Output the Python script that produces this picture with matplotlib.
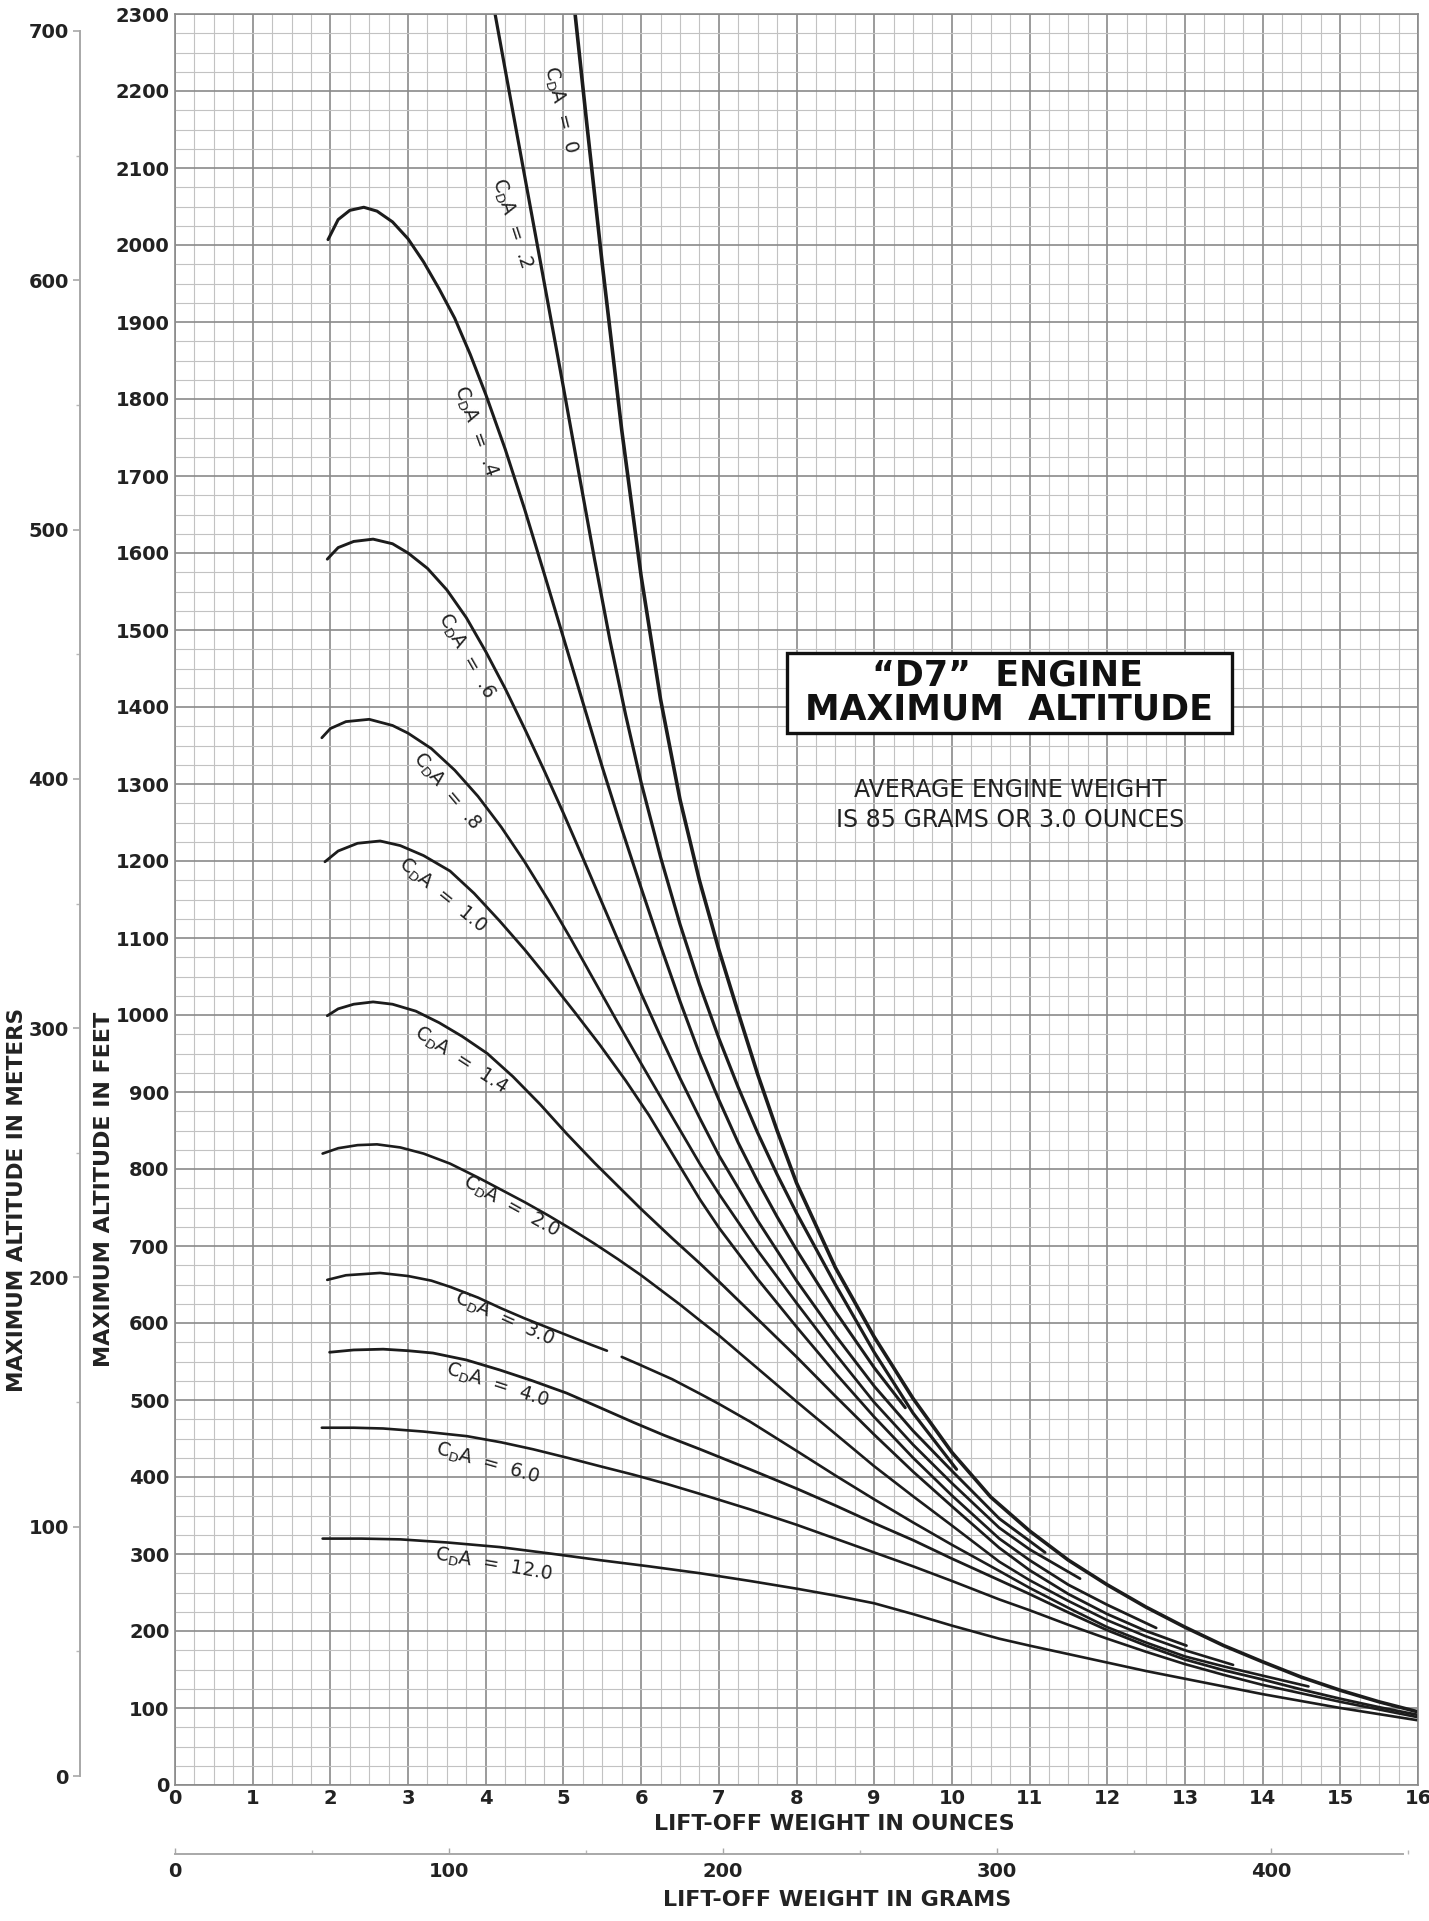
import numpy as np
import matplotlib
matplotlib.use("Agg")
import matplotlib.pyplot as plt
from matplotlib.patches import Rectangle

# lift-off weight (oz) vs maximum altitude (ft), one curve per CdA value
cda_0_x = [5.15, 5.3, 5.5, 5.75, 6.0, 6.25, 6.5, 6.75, 7.0, 7.25, 7.5, 7.75, 8.0, 8.5, 9.0, 9.5,
           10.0, 10.5, 11.0, 11.5, 12.0, 12.5, 13.0, 13.5, 14.0, 14.5, 15.0, 15.5, 16.0]
cda_0_y = [2300, 2158, 1975, 1760, 1570, 1410, 1280, 1175, 1085, 1003, 923, 850, 782, 672, 582, 502,
           432, 374, 330, 292, 260, 231, 205, 181, 160, 140, 123, 108, 95]

cda_02_x = [4.12, 4.25, 4.4, 4.6, 4.8, 5.0, 5.2, 5.4, 5.6, 5.8, 6.0, 6.25, 6.5, 6.75, 7.0, 7.25,
            7.5, 7.75, 8.0, 8.5, 9.0, 9.5, 10.06]
cda_02_y = [2300, 2228, 2145, 2035, 1925, 1815, 1703, 1592, 1486, 1390, 1302, 1205, 1118, 1040, 970, 906,
            847, 793, 743, 650, 562, 483, 410]

cda_04_x = [1.97, 2.1, 2.25, 2.43, 2.6, 2.8, 3.0, 3.2, 3.4, 3.6, 3.8, 4.0, 4.25, 4.5, 4.75, 5.0,
            5.25, 5.5, 5.75, 6.0, 6.25, 6.5, 6.75, 7.0, 7.25, 7.5, 7.75, 8.0, 8.5, 9.0, 9.4]
cda_04_y = [2007, 2033, 2045, 2049, 2044, 2030, 2008, 1978, 1943, 1905, 1858, 1806, 1735, 1657, 1574, 1490,
            1406, 1322, 1242, 1165, 1090, 1018, 950, 890, 834, 784, 738, 695, 615, 542, 490]

cda_06_x = [1.96, 2.1, 2.3, 2.55, 2.8, 3.0, 3.25, 3.5, 3.75, 4.0, 4.25, 4.5, 4.75, 5.0, 5.25, 5.5,
            5.75, 6.0, 6.25, 6.5, 6.76, 7.0, 7.5, 8.0, 8.5, 9.0, 9.5, 10.0, 10.61, 11.2]
cda_06_y = [1592, 1607, 1615, 1618, 1612, 1600, 1580, 1552, 1516, 1472, 1424, 1372, 1318, 1262, 1204, 1145,
            1086, 1028, 972, 918, 865, 818, 733, 655, 584, 518, 460, 408, 346, 302]

cda_08_x = [1.89, 2.0, 2.2, 2.5, 2.8, 3.0, 3.3, 3.6, 3.9, 4.2, 4.5, 4.8, 5.1, 5.4, 5.7, 6.0,
            6.3, 6.76, 7.0, 7.5, 8.0, 8.5, 9.0, 9.5, 10.0, 10.61, 11.0, 11.65]
cda_08_y = [1360, 1372, 1381, 1384, 1376, 1366, 1346, 1318, 1284, 1244, 1199, 1150, 1098, 1044, 990, 937,
            885, 806, 768, 694, 626, 560, 497, 442, 392, 334, 306, 268]

cda_10_x = [1.93, 2.1, 2.35, 2.64, 2.9, 3.2, 3.54, 3.85, 4.18, 4.5, 4.83, 5.15, 5.47, 5.8, 6.1, 6.4,
            6.76, 7.0, 7.5, 8.0, 8.5, 9.0, 9.5, 10.0, 10.61, 11.0, 11.5, 12.0, 12.63]
cda_10_y = [1199, 1213, 1223, 1226, 1220, 1207, 1187, 1158, 1122, 1085, 1044, 1003, 961, 915, 870, 820,
            760, 724, 657, 595, 535, 478, 425, 376, 320, 292, 260, 234, 204]

cda_14_x = [1.96, 2.1, 2.3, 2.55, 2.8, 3.1, 3.4, 3.7, 4.02, 4.35, 4.7, 5.04, 5.4, 5.7, 6.0, 6.4,
            6.76, 7.0, 7.5, 8.0, 8.5, 9.0, 9.5, 10.0, 10.61, 11.0, 11.5, 12.0, 12.5, 13.02]
cda_14_y = [999, 1008, 1014, 1017, 1014, 1005, 990, 972, 950, 920, 884, 846, 808, 778, 748, 710,
            677, 654, 605, 556, 505, 455, 407, 362, 308, 279, 248, 222, 200, 181]

cda_20_x = [1.9, 2.1, 2.35, 2.6, 2.9, 3.2, 3.54, 3.9, 4.2, 4.5, 4.8, 5.1, 5.4, 5.7, 6.0, 6.25,
            6.5, 6.76, 7.0, 7.5, 8.0, 8.5, 9.0, 9.5, 10.0, 10.61, 11.0, 11.5, 12.0, 12.5, 13.0, 13.62]
cda_20_y = [820, 827, 831, 832, 828, 820, 807, 789, 773, 757, 740, 722, 703, 683, 662, 643,
            624, 603, 584, 541, 498, 456, 414, 375, 337, 290, 266, 239, 214, 193, 175, 156]

# the 3.0 curve has a short break in the ink just past 5.5 oz
cda_30_x = [1.96, 2.2, 2.64, 3.0, 3.3, 3.54, 3.9, 4.2, 4.5, 4.8, 5.1, 5.35, 5.56, 5.65, 5.75, 6.0,
            6.4, 6.76, 7.0, 7.4, 8.0, 8.5, 9.0, 9.5, 10.0, 10.61, 11.0, 11.5, 12.0, 12.5, 13.0, 13.5,
            14.0, 14.59]
cda_30_y = [656, 662, 665, 661, 655, 647, 633, 619, 606, 594, 582, 572, 564, np.nan, 556, 545,
            527, 508, 495, 472, 434, 402, 371, 341, 312, 278, 256, 230, 205, 185, 167, 154,
            142, 128]

cda_40_x = [1.99, 2.3, 2.68, 3.0, 3.32, 3.75, 4.18, 4.6, 5.04, 5.45, 5.9, 6.3, 6.76, 7.4, 8.0, 8.5,
            9.0, 9.5, 10.0, 10.61, 11.0, 11.5, 12.0, 12.5, 13.0, 13.5, 14.0, 14.5, 15.0, 15.5, 16.0]
cda_40_y = [562, 565, 566, 564, 561, 552, 539, 525, 509, 491, 471, 454, 436, 410, 385, 363,
            340, 318, 294, 266, 248, 224, 201, 181, 163, 149, 137, 124, 112, 101, 91]

cda_60_x = [1.89, 2.3, 2.68, 3.2, 3.76, 4.2, 4.61, 5.05, 5.47, 5.9, 6.33, 6.76, 7.4, 8.0, 8.5, 9.0,
            9.5, 10.0, 10.61, 11.0, 11.5, 12.0, 12.5, 13.0, 13.5, 14.0, 14.5, 15.0, 15.5, 16.0]
cda_60_y = [464, 464, 463, 459, 453, 445, 436, 425, 414, 403, 391, 378, 358, 338, 320, 302,
            284, 265, 241, 227, 208, 190, 173, 157, 143, 130, 119, 108, 98, 88]

cda_120_x = [1.9, 2.4, 2.9, 3.5, 4.18, 4.8, 5.47, 6.1, 6.76, 7.4, 8.0, 8.5, 9.0, 9.5, 10.0, 10.61,
             11.0, 11.5, 12.0, 12.5, 13.0, 13.5, 14.0, 14.5, 15.0, 15.5, 16.0]
cda_120_y = [320, 320, 319, 315, 309, 301, 292, 284, 275, 265, 255, 246, 236, 222, 207, 190,
             181, 170, 159, 148, 138, 128, 118, 109, 100, 92, 84]

curves = [
    (cda_0_x, cda_0_y, 2.6), (cda_02_x, cda_02_y, 2.3), (cda_04_x, cda_04_y, 2.2),
    (cda_06_x, cda_06_y, 2.1), (cda_08_x, cda_08_y, 2.0), (cda_10_x, cda_10_y, 2.0),
    (cda_14_x, cda_14_y, 2.0), (cda_20_x, cda_20_y, 1.9), (cda_30_x, cda_30_y, 1.9),
    (cda_40_x, cda_40_y, 2.0), (cda_60_x, cda_60_y, 1.9), (cda_120_x, cda_120_y, 1.9),
]

# curve labels: value, x (oz), y (ft), rotation
cda_labels = ["0", ".2", ".4", ".6", ".8", "1.0", "1.4", "2.0", "3.0", "4.0", "6.0", "12.0"]
label_x = [4.96, 4.33, 3.86, 3.75, 3.50, 3.44, 3.68, 4.33, 4.24, 4.14, 4.02, 4.10]
label_y = [2176, 2029, 1758, 1467, 1290, 1155, 941, 751, 605, 519, 417, 286]
label_rot = [-76, -72, -70, -60, -50, -39, -33, -29, -24, -18, -16, -10]

oz_ticks = list(range(0, 17))
ft_ticks = list(range(0, 2301, 100))
m_ticks = list(range(0, 701, 100))
g_ticks = [0, 100, 200, 300, 400]

W, H = 1429, 1921
fig = plt.figure(figsize=(W / 100, H / 100), dpi=100)
fig.patch.set_facecolor("white")

ax = fig.add_axes([175 / W, 1 - 1785 / H, 1243 / W, 1771 / H])
ax.set_xlim(0, 16)
ax.set_ylim(0, 2300)
ax.set_xticks(oz_ticks)
ax.set_xticks(np.arange(0, 16.01, 0.25), minor=True)
ax.set_yticks(ft_ticks)
ax.set_yticks(np.arange(0, 2300.1, 25), minor=True)
ax.grid(which="major", color="#8a8a8a", lw=1.2)
ax.grid(which="minor", color="#c2c2c2", lw=0.8)
ax.set_axisbelow(True)
ax.tick_params(which="both", length=0)
ax.tick_params(axis="y", pad=4)
ax.tick_params(axis="x", pad=3)
for lbl in ax.get_xticklabels() + ax.get_yticklabels():
    lbl.set_fontweight("bold")
    lbl.set_fontsize(14)
    lbl.set_color("#222222")
for sp in ax.spines.values():
    sp.set_color("#8a8a8a")
    sp.set_linewidth(1.2)

for xs, ys, lw in curves:
    ax.plot(xs, ys, color="#1c1c1c", lw=lw, solid_capstyle="round")

for txt, lx, ly, rot in zip(cda_labels, label_x, label_y, label_rot):
    ax.text(lx, ly, r"C$_\mathregular{D}$A  =  " + txt, rotation=rot, rotation_mode="anchor",
            ha="center", va="center", fontsize=13.5, color="#222222")

# title block
ax.add_patch(Rectangle((7.88, 1366), 5.72, 104, fill=True, facecolor="white",
                       edgecolor="#111111", lw=2.4, zorder=3))
ax.text(10.72, 1441, "\u201cD7\u201d  ENGINE", ha="center", va="center",
        fontsize=25, fontweight="bold", color="#111111", zorder=4)
ax.text(10.74, 1397, "MAXIMUM  ALTITUDE", ha="center", va="center",
        fontsize=25, fontweight="bold", color="#111111", zorder=4)
ax.text(10.75, 1292, "AVERAGE ENGINE WEIGHT", ha="center", va="center",
        fontsize=17, color="#222222")
ax.text(10.75, 1253, "IS 85 GRAMS OR 3.0 OUNCES", ha="center", va="center",
        fontsize=17, color="#222222")

fig.text(834 / W, 1 - 1824 / H, "LIFT-OFF WEIGHT IN OUNCES", ha="center", va="center",
         fontsize=16, fontweight="bold", color="#222222")
fig.text(837 / W, 1 - 1900 / H, "LIFT-OFF WEIGHT IN GRAMS", ha="center", va="center",
         fontsize=16, fontweight="bold", color="#222222")
fig.text(104 / W, 1 - 1189 / H, "MAXIMUM ALTITUDE IN FEET", rotation=90, ha="center",
         va="center", fontsize=16, fontweight="bold", color="#222222")
fig.text(17 / W, 1 - 1200 / H, "MAXIMUM ALTITUDE IN METERS", rotation=90, ha="center",
         va="center", fontsize=15.5, fontweight="bold", color="#222222")

# metres scale on the far left
axm = fig.add_axes([80 / W, 1 - 1776 / H, 0.0001, (1776 - 31) / H])
axm.set_ylim(0, 700)
axm.set_yticks(m_ticks)
axm.set_yticks(np.arange(0, 701, 50), minor=True)
axm.set_xticks([])
for name, sp in axm.spines.items():
    sp.set_visible(name == "left")
axm.spines["left"].set_color("#a8a8a8")
axm.spines["left"].set_linewidth(1.4)
axm.tick_params(axis="y", which="major", direction="out", length=5, width=1.2, color="#a8a8a8", pad=3)
axm.tick_params(axis="y", which="minor", direction="out", length=3, width=1.0, color="#b8b8b8")
for lbl in axm.get_yticklabels():
    lbl.set_fontweight("bold")
    lbl.set_fontsize(14)
    lbl.set_color("#222222")
axm.patch.set_visible(False)

# grams scale under the ounce axis
axg = fig.add_axes([175 / W, 1 - 1854 / H, 1243 / W, 0.0001])
axg.set_xlim(0, 16 * 28.3495)
axg.set_xticks(g_ticks)
axg.set_xticks(np.arange(0, 451, 50), minor=True)
axg.set_yticks([])
for name, sp in axg.spines.items():
    sp.set_visible(name == "bottom")
axg.spines["bottom"].set_color("#a8a8a8")
axg.spines["bottom"].set_linewidth(1.4)
axg.spines["bottom"].set_bounds(0, 448)
axg.tick_params(axis="x", which="major", direction="in", length=4, width=1.0, color="#a8a8a8", pad=6)
axg.tick_params(axis="x", which="minor", direction="in", length=3, width=1.0, color="#b8b8b8")
for lbl in axg.get_xticklabels():
    lbl.set_fontweight("bold")
    lbl.set_fontsize(14)
    lbl.set_color("#222222")
axg.patch.set_visible(False)

fig.savefig("out.png", dpi=100, facecolor="white")
